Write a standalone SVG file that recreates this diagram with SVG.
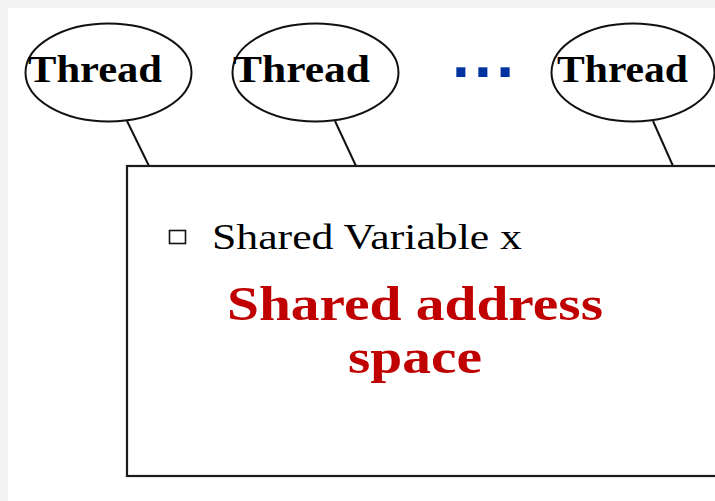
<svg xmlns="http://www.w3.org/2000/svg" width="715" height="501" viewBox="0 0 715 501">
  <style>
    .thread-shape { fill: #ffffff; stroke: #111111; stroke-width: 2; }
    .thread-label { font-family: "Liberation Serif", "Times New Roman", serif; font-weight: bold; font-size: 38px; fill: #000000; }
    .link { stroke: #111111; stroke-width: 2; fill: none; }
    .memory { fill: #ffffff; stroke: #1a1a1a; stroke-width: 2.2; }
    .bullet-text { font-family: "Liberation Serif", "Times New Roman", serif; font-size: 36px; fill: #000000; }
    .title { font-family: "Liberation Serif", "Times New Roman", serif; font-weight: bold; font-size: 49px; fill: #c00000; }
  </style>

  <!-- page background with a light frame along the top and left -->
  <rect x="0" y="0" width="715" height="501" fill="#f3f3f3"/>
  <rect x="8" y="8" width="707" height="493" fill="#ffffff"/>

  <!-- connectors from each thread to the shared memory block -->
  <g id="connectors">
    <line class="link" x1="127" y1="121" x2="149" y2="166"/>
    <line class="link" x1="335" y1="121" x2="356" y2="166"/>
    <line class="link" x1="653" y1="121" x2="673" y2="166"/>
  </g>

  <!-- shared address space block -->
  <g id="shared-memory">
    <rect class="memory" x="127" y="166" width="600" height="310"/>
    <rect x="169.5" y="230.5" width="16" height="13" fill="none" stroke="#111111" stroke-width="1.6"/>
    <text class="bullet-text" x="212" y="249" textLength="310" lengthAdjust="spacingAndGlyphs">Shared Variable x</text>
    <text class="title" x="227" y="320" textLength="376" lengthAdjust="spacingAndGlyphs">Shared address</text>
    <text class="title" x="348" y="373" textLength="134" lengthAdjust="spacingAndGlyphs">space</text>
  </g>

  <!-- threads -->
  <g id="thread-1">
    <ellipse class="thread-shape" cx="108.5" cy="72.5" rx="83" ry="49"/>
    <text class="thread-label" x="28" y="82" textLength="134" lengthAdjust="spacingAndGlyphs">Thread</text>
  </g>
  <g id="thread-2">
    <ellipse class="thread-shape" cx="315.5" cy="72.5" rx="83" ry="49"/>
    <text class="thread-label" x="233" y="82" textLength="137" lengthAdjust="spacingAndGlyphs">Thread</text>
  </g>
  <g id="ellipsis">
    <text x="452" y="77" font-family="'Liberation Sans', Arial, sans-serif" font-weight="bold" font-size="64" fill="#0033a0" textLength="62" lengthAdjust="spacing">...</text>
  </g>
  <g id="thread-n">
    <ellipse class="thread-shape" cx="633" cy="72.5" rx="81.5" ry="49"/>
    <text class="thread-label" x="557" y="82" textLength="131" lengthAdjust="spacingAndGlyphs">Thread</text>
  </g>
</svg>
